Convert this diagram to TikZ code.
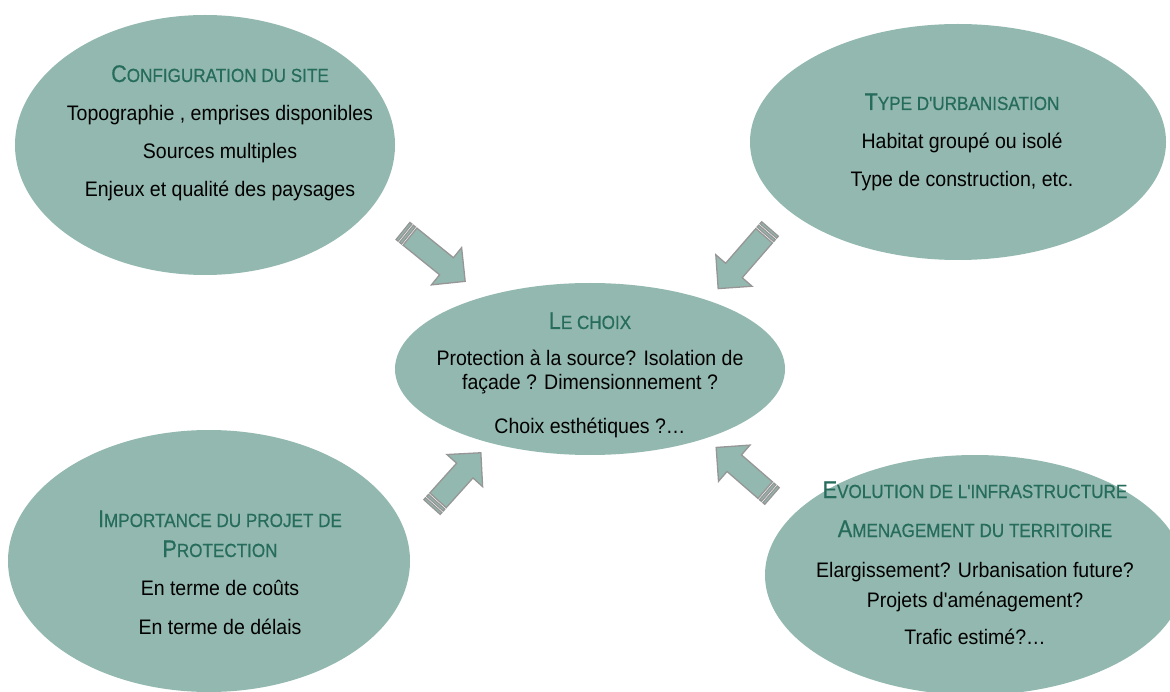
\documentclass[tikz,border=0pt]{standalone}
\usepackage{fontspec}
\newfontfamily\mf{Liberation Sans}[FakeStretch=0.93]
\newfontfamily\tf{Liberation Sans}[FakeStretch=0.9,FakeBold=0.6]
\definecolor{fillc}{RGB}{147,184,175}
\definecolor{titc}{RGB}{38,108,92}
\definecolor{arrc}{RGB}{150,150,150}
\newcommand\tsc[2]{{\fontsize{24}{28}\selectfont #1}{\fontsize{19}{22}\selectfont #2}}
\newcommand\barrow[4]{%
\begin{scope}[shift={(#1,-#2)},rotate=#3]
\filldraw[arr] (0,-11) rectangle (2.5,11);
\filldraw[arr] (4.5,-11) rectangle (7,11);
\filldraw[arr] (9,-11) -- (#4-24,-11) -- (#4-24,-24) -- (#4,0) -- (#4-24,24) -- (#4-24,11) -- (9,11) -- cycle;
\end{scope}}
\tikzset{
 ell/.style={fill=fillc,draw=none},
 body/.style={font=\mf\fontsize{21}{25}\selectfont,text=black,anchor=base,inner sep=0pt,align=center},
 ttl/.style={font=\tf,text=titc,anchor=base,inner sep=0pt,align=center},
 arr/.style={fill=fillc,draw=arrc,line width=1.3pt,line join=miter}
}
\begin{document}
\begin{tikzpicture}[x=1pt,y=1pt]
\useasboundingbox (0,0) rectangle (1170,-692);
\clip (0,0) rectangle (1170,-692);
% ellipses
\fill[ell] (205,-145) ellipse [x radius=190, y radius=130];
\coordinate (tl) at (205,-145);
\fill[ell] (958,-142) ellipse [x radius=208, y radius=118];
\coordinate (tr) at (958,-142);
\fill[ell] (590,-369) ellipse [x radius=195, y radius=86];
\coordinate (ce) at (590,-369);
\fill[ell] (209,-561) ellipse [x radius=201, y radius=131];
\coordinate (bl) at (209,-561);
\fill[ell] (975,-575) ellipse [x radius=210, y radius=120];
\coordinate (br) at (975,-575);
% arrows
\barrow{403}{231}{-39}{80}
\barrow{770}{229}{-131}{79}
\barrow{432}{507}{48}{73}
\barrow{772}{496}{139}{74}
% top-left text
\node[ttl] (t1) at (220,-82) {\tsc{C}{ONFIGURATION DU SITE}};
\node[body] (t1a) at (220,-121) {Topographie , emprises disponibles};
\node[body] (t1b) at (220,-159) {Sources multiples};
\node[body] (t1c) at (220,-197) {Enjeux et qualité des paysages};
% top-right text
\node[ttl] (t2) at (962,-110) {\tsc{T}{YPE D'URBANISATION}};
\node[body] (t2a) at (962,-149) {Habitat groupé ou isolé};
\node[body] (t2b) at (962,-187) {Type de construction, etc.};
% center
\node[ttl] (t3) at (590,-329) {\tsc{L}{E CHOIX}};
\node[body] (t3a) at (590,-366) {Protection à la source? Isolation de};
\node[body] (t3b) at (590,-390) {façade ? Dimensionnement ?};
\node[body] (t3c) at (590,-433) {Choix esthétiques ?\ldots};
% bottom-left
\node[ttl] (t4) at (220,-527) {\tsc{I}{MPORTANCE DU PROJET DE}};
\node[ttl] (t4b) at (220,-557) {\tsc{P}{ROTECTION}};
\node[body] (t4c) at (220,-595) {En terme de coûts};
\node[body] (t4d) at (220,-634) {En terme de délais};
% bottom-right
\node[ttl] (t5) at (975,-498) {\tsc{E}{VOLUTION DE L'INFRASTRUCTURE}};
\node[ttl] (t5b) at (975,-537) {\tsc{A}{MENAGEMENT DU TERRITOIRE}};
\node[body] (t5c) at (975,-577) {Elargissement? Urbanisation future?};
\node[body] (t5d) at (975,-607) {Projets d'aménagement?};
\node[body] (t5e) at (975,-644) {Trafic estimé?\ldots};
\end{tikzpicture}
\end{document}
